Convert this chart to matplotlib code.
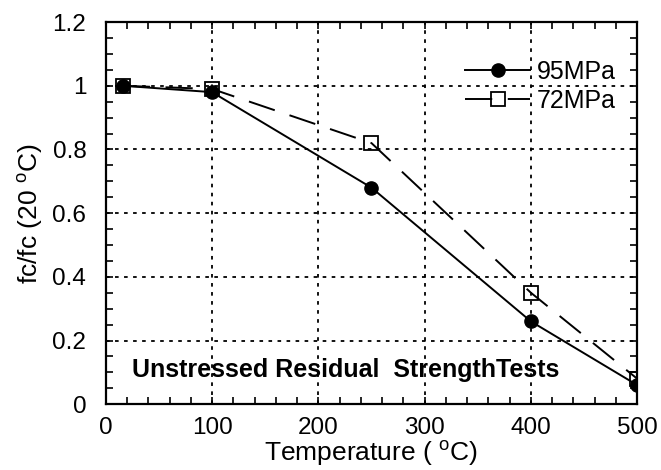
import numpy as np
import matplotlib.pyplot as plt
from matplotlib.ticker import MultipleLocator

plt.rcParams['font.family'] = ['Liberation Sans', 'DejaVu Sans']
plt.rcParams['mathtext.fontset'] = 'custom'
plt.rcParams['mathtext.rm'] = 'Liberation Sans'

# residual strength ratio after heating
temp = [16, 100, 250, 400, 500]
fc_95 = [1.0, 0.98, 0.68, 0.26, 0.06]
fc_72 = [1.0, 0.99, 0.82, 0.35, 0.08]

fig = plt.figure(figsize=(6.61, 4.70), dpi=100)
ax = fig.add_axes([0.160, 0.140, 0.804, 0.813])

ax.plot(temp, fc_95, color='black', lw=1.4, marker='o', ms=9.5,
        mfc='black', mec='black', label='95MPa', zorder=3)
ax.plot(temp, fc_72, color='black', lw=1.4, ls=(0, (14, 8)), marker='s', ms=10,
        mfc='none', mec='black', mew=1.3, label='72MPa', zorder=4)

ax.set_xlim(0, 500)
ax.set_ylim(0, 1.2)
ax.xaxis.set_major_locator(MultipleLocator(100))
ax.xaxis.set_minor_locator(MultipleLocator(20))
ax.yaxis.set_minor_locator(MultipleLocator(0.05))
ax.set_yticks([0, 0.2, 0.4, 0.6, 0.8, 1.0, 1.2])
ax.set_yticklabels(['0', '0.2', '0.4', '0.6', '0.8', '1', '1.2'])

ax.tick_params(which='both', direction='in', top=True, right=True,
               labelsize=17.5, width=1.2, length=5)
ax.tick_params(axis='x', pad=9)
ax.tick_params(axis='y', pad=14)
ax.grid(True, which='major', ls=(0, (2, 3)), color='black', lw=1.3)
for s in ax.spines.values():
    s.set_linewidth(1.6)

ax.set_xlabel(r'Temperature ( $^{\mathrm{o}}$C)', fontsize=19, labelpad=0)
ax.set_ylabel(r'fc/fc (20 $^{\mathrm{o}}$C)', fontsize=19, labelpad=5)

ax.text(24.5, 0.085, 'Unstressed Residual  StrengthTests', fontsize=18,
        fontweight='bold', va='baseline', ha='left')

leg = ax.legend(loc='center left', bbox_to_anchor=(0.676, 0.832), frameon=False,
                fontsize=18, handlelength=2.6, handletextpad=0.28,
                labelspacing=0.2, borderaxespad=0, borderpad=0)

fig.savefig('out.png', dpi=100)
